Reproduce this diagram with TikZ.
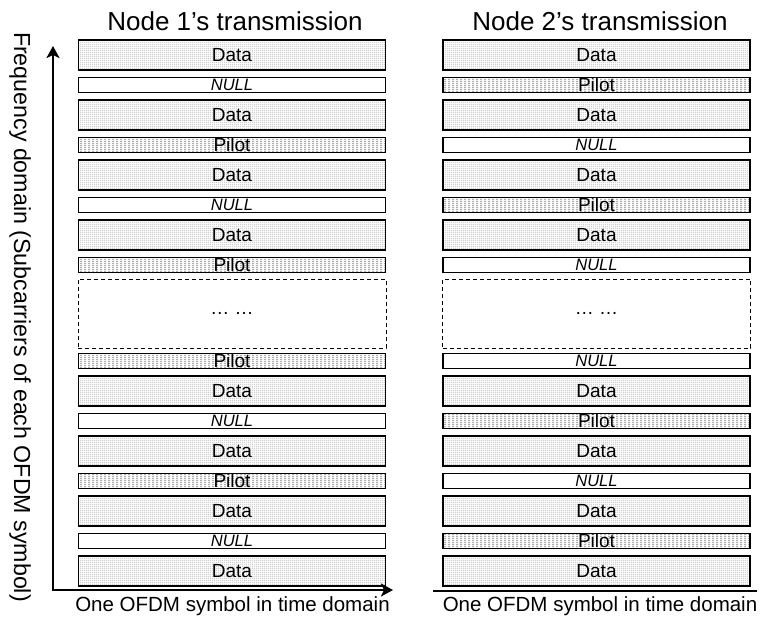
\documentclass[tikz,border=0pt]{standalone}
\usepackage{fontspec}
\setmainfont{Liberation Sans}
\usetikzlibrary{patterns,arrows.meta}

% fine dot texture for data subcarriers
\pgfdeclarepatternformonly{datadots}{\pgfqpoint{0pt}{0pt}}{\pgfqpoint{2.4pt}{2.4pt}}{\pgfqpoint{2.4pt}{2.4pt}}%
  {\pgfpathrectangle{\pgfqpoint{0.4pt}{0.4pt}}{\pgfqpoint{1pt}{1pt}}\pgfusepath{fill}}
% short horizontal dashes for pilot subcarriers
\pgfdeclarepatternformonly{pilotdash}{\pgfqpoint{0pt}{0pt}}{\pgfqpoint{4pt}{2.4pt}}{\pgfqpoint{4pt}{2.4pt}}%
  {\pgfpathrectangle{\pgfqpoint{0pt}{0.5pt}}{\pgfqpoint{2.8pt}{1pt}}\pgfusepath{fill}}

\tikzset{
  cell/.style={draw=black, line width=1.4pt, minimum width=307pt, inner sep=0pt},
  datacell/.style={cell, minimum height=30pt, pattern=datadots, pattern color=gray!85,
    font=\fontsize{19}{19}\selectfont},
  pilotcell/.style={cell, minimum height=15pt, pattern=pilotdash, pattern color=gray!95,
    font=\fontsize{19}{19}\selectfont},
  nullcell/.style={cell, minimum height=15pt, fill=white,
    font=\fontsize{16.5}{16.5}\selectfont\itshape},
  gapcell/.style={draw=black, line width=0.9pt, dash pattern=on 4pt off 3pt,
    minimum width=308pt, minimum height=69pt, inner sep=0pt,
    font=\fontsize{19}{19}\selectfont},
  titlelabel/.style={anchor=base, font=\fontsize{26}{26}\selectfont, inner sep=0pt},
  timelabel/.style={anchor=base, font=\fontsize{20.5}{20.5}\selectfont, inner sep=0pt},
  axisline/.style={line width=2.4pt, line join=miter,
    {Stealth[length=12pt,width=13pt,inset=3pt]}-{Stealth[length=12pt,width=13pt,inset=3pt]}}
}

\begin{document}
\begin{tikzpicture}[x=1pt,y=-1pt]
\useasboundingbox (0,0) rectangle (764,622);

% column headings
\node[titlelabel] (t1) at (235,30) {Node 1’s transmission};
\node[titlelabel] (t2) at (600,30) {Node 2’s transmission};

% Node 1 subcarrier map
\node[datacell]  (a1)  at (232,55)  {Data};
\node[nullcell]  (a2)  at (232,85)  {NULL};
\node[datacell]  (a3)  at (232,115) {Data};
\node[pilotcell] (a4)  at (232,145) {Pilot};
\node[datacell]  (a5)  at (232,175) {Data};
\node[nullcell]  (a6)  at (232,205) {NULL};
\node[datacell]  (a7)  at (232,235) {Data};
\node[pilotcell] (a8)  at (232,265) {Pilot};
\node[gapcell]   (a9)  at (232,313.5) {… …};
\node[pilotcell] (a10) at (232,361) {Pilot};
\node[datacell]  (a11) at (232,391) {Data};
\node[nullcell]  (a12) at (232,421) {NULL};
\node[datacell]  (a13) at (232,451) {Data};
\node[pilotcell] (a14) at (232,481) {Pilot};
\node[datacell]  (a15) at (232,511) {Data};
\node[nullcell]  (a16) at (232,541) {NULL};
\node[datacell]  (a17) at (232,571) {Data};

% Node 2 subcarrier map
\node[datacell]  (b1)  at (596.5,55)  {Data};
\node[pilotcell] (b2)  at (596.5,85)  {Pilot};
\node[datacell]  (b3)  at (596.5,115) {Data};
\node[nullcell]  (b4)  at (596.5,145) {NULL};
\node[datacell]  (b5)  at (596.5,175) {Data};
\node[pilotcell] (b6)  at (596.5,205) {Pilot};
\node[datacell]  (b7)  at (596.5,235) {Data};
\node[nullcell]  (b8)  at (596.5,265) {NULL};
\node[gapcell]   (b9)  at (596.5,313.5) {… …};
\node[nullcell]  (b10) at (596.5,361) {NULL};
\node[datacell]  (b11) at (596.5,391) {Data};
\node[pilotcell] (b12) at (596.5,421) {Pilot};
\node[datacell]  (b13) at (596.5,451) {Data};
\node[nullcell]  (b14) at (596.5,481) {NULL};
\node[datacell]  (b15) at (596.5,511) {Data};
\node[pilotcell] (b16) at (596.5,541) {Pilot};
\node[datacell]  (b17) at (596.5,571) {Data};

% axes
\coordinate (origin) at (53,590);
\coordinate (ftip) at (53,46);
\coordinate (ttip) at (393,590);
\draw[axisline] (ftip) -- (origin) -- (ttip);
\coordinate (r0) at (433,591);
\coordinate (r1) at (757,591);
\draw[line width=1.5pt] (r0) -- (r1);

% axis labels
\node[rotate=-90, font=\fontsize{23.2}{23.2}\selectfont, inner sep=0pt] (flabel) at (20,317)
  {Frequency domain (Subcarriers of each OFDM symbol)};
\node[timelabel] (x1) at (232.5,611) {One OFDM symbol in time domain};
\node[timelabel] (x2) at (600,611) {One OFDM symbol in time domain};
\end{tikzpicture}
\end{document}
